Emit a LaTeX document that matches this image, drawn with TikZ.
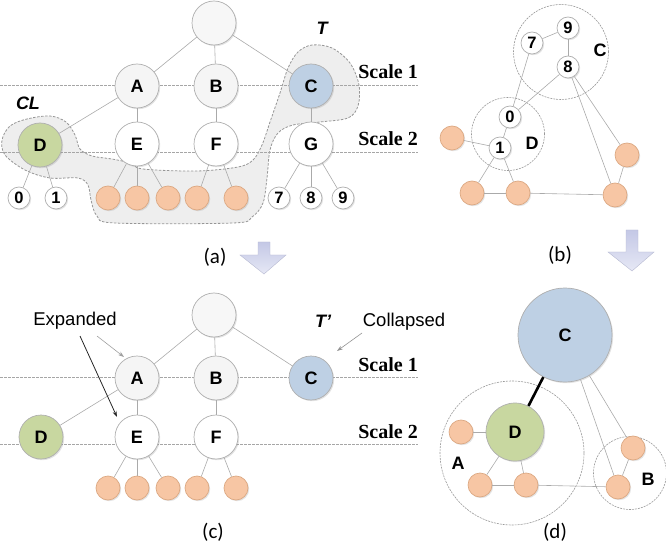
\documentclass[tikz,border=0pt]{standalone}
\usepackage{fontspec}
\setmainfont{Liberation Serif}
\setsansfont{Liberation Sans}
\newfontfamily\calib{Carlito}
\usetikzlibrary{shadows,arrows.meta}
\definecolor{nodeborder}{RGB}{175,175,175}
\definecolor{edgegray}{RGB}{170,170,170}
\definecolor{bluefill}{RGB}{190,208,228}
\definecolor{greenfill}{RGB}{200,215,160}
\definecolor{orangefill}{RGB}{247,198,164}
\definecolor{orangeborder}{RGB}{220,168,130}
\definecolor{regionfill}{RGB}{238,238,238}
\definecolor{regionline}{RGB}{150,150,150}
\definecolor{arrowtop}{RGB}{196,200,230}
\definecolor{arrowbot}{RGB}{230,232,245}
\begin{document}
\begin{tikzpicture}[x=1pt,y=-1pt,
  base/.style={circle, inner sep=0pt, draw=nodeborder, line width=0.7pt,
    drop shadow={shadow xshift=1.2pt, shadow yshift=-1.2pt, opacity=0.22}},
  big/.style={base, minimum size=44pt, fill=white, font=\sffamily\bfseries\fontsize{18}{18}\selectfont},
  small/.style={base, minimum size=22pt, fill=white, font=\sffamily\bfseries\fontsize{16.5}{16.5}\selectfont},
  orange/.style={base, minimum size=24pt, fill=orangefill, draw=orangeborder},
  edge/.style={draw=edgegray, line width=0.6pt},
  scaleline/.style={draw=gray!70, dashed, line width=0.6pt, dash pattern=on 2.5pt off 1.5pt},
  scalelab/.style={font=\bfseries\fontsize{20}{20}\selectfont, inner sep=0pt, anchor=base east},
  tlab/.style={font=\sffamily\bfseries\itshape\fontsize{18}{18}\selectfont, inner sep=0pt},
  plab/.style={font=\calib\fontsize{21}{21}\selectfont, inner sep=0pt},
  txt/.style={font=\sffamily\fontsize{18.5}{18.5}\selectfont, inner sep=0pt},
  dcirc/.style={circle, draw=gray!80, dashed, dash pattern=on 2pt off 1pt, line width=0.6pt, inner sep=0pt},
  clab/.style={font=\sffamily\bfseries\fontsize{18}{18}\selectfont, inner sep=0pt},
  blockarrow/.style={top color=arrowtop, bottom color=arrowbot, draw=arrowtop!80!gray, line width=0.4pt}
]
\useasboundingbox (0,0) rectangle (666,545);

% ---------- panel (a) ----------
\draw[fill=regionfill, draw=regionline, dashed, dash pattern=on 2.5pt off 1.5pt, line width=0.8pt]
  plot[smooth cycle, tension=0.55] coordinates {
  (130,163) (143,169) (197,171) (238,167) (253,160) (262,145) (270,122) (280,93)
  (288,68) (298,52) (312,45) (332,48) (350,63) (359,85) (358,106) (348,118)
  (320,122) (293,125) (278,133) (270,150) (267,178) (263,203) (252,217) (233,223)
  (115,223) (97,216) (91,200) (88,185) (78,178) (50,178) (25,170) (5,155)
  (2,140) (10,126) (27,119) (50,116) (66,122) (75,135) (80,149) (92,156) (112,159)};

\coordinate (s1a) at (0,85); \coordinate (s1b) at (418,85);
\coordinate (s2a) at (0,152); \coordinate (s2b) at (418,152);
\draw[scaleline] (s1a) -- (s1b);
\draw[scaleline] (s2a) -- (s2b);
\node[scalelab] (sc1) at (418,79) {Scale 1};
\node[scalelab] (sc2) at (418,146) {Scale 2};
\node[tlab] (Tl) at (322,28) {T};
\node[tlab] (CLl) at (28,103) {CL};

\node[big, fill=gray!6] (r1) at (214,23) {};
\node[big, fill=gray!8] (A1) at (137,86) {A};
\node[big, fill=gray!8] (B1) at (216,86) {B};
\node[big, fill=bluefill] (C1) at (311,86) {C};
\node[big, fill=greenfill] (D1) at (40,145) {D};
\node[big] (E1) at (137,144) {E};
\node[big] (F1) at (216,144) {F};
\node[big] (G1) at (311,144) {G};
\node[small] (n0) at (19,198) {0};
\node[small] (n1) at (56,198) {1};
\node[orange] (oa1) at (108,198) {};
\node[orange] (oa2) at (137,198) {};
\node[orange] (oa3) at (168,198) {};
\node[orange] (oa4) at (197,198) {};
\node[orange] (oa5) at (236,198) {};
\node[small] (n7) at (279,198) {7};
\node[small] (n8) at (311,198) {8};
\node[small] (n9) at (343,198) {9};
\draw[edge] (r1) -- (A1); \draw[edge] (r1) -- (B1); \draw[edge] (r1) -- (C1);
\draw[edge] (A1) -- (D1); \draw[edge] (A1) -- (E1); \draw[edge] (B1) -- (F1);
\draw[edge] (C1) -- (G1);
\draw[edge] (D1) -- (n0); \draw[edge] (D1) -- (n1);
\draw[edge] (E1) -- (oa1); \draw[edge] (E1) -- (oa2); \draw[edge] (E1) -- (oa3);
\draw[edge] (F1) -- (oa4); \draw[edge] (F1) -- (oa5);
\draw[edge] (G1) -- (n7); \draw[edge] (G1) -- (n8); \draw[edge] (G1) -- (n9);

\node[plab] (la) at (215,257) {(a)};
\path[blockarrow] (258,242) -- (270,242) -- (270,255) -- (286,255) -- (264,274) -- (240,255) -- (258,255) -- cycle;

% ---------- panel (b) ----------
\node[dcirc, minimum size=95pt] (gC) at (561,52) {};
\node[dcirc, minimum size=73pt] (gD) at (508,134) {};
\node[clab] (lC) at (600,50) {C};
\node[clab] (lD) at (532,143) {D};
\node[small] (b9) at (568,28) {9};
\node[small] (b7) at (532,43) {7};
\node[small] (b8) at (568,67) {8};
\node[small] (b0) at (510,117) {0};
\node[small] (b1) at (500,148) {1};
\node[orange] (ob1) at (452,138) {};
\node[orange] (ob2) at (472,193) {};
\node[orange] (ob3) at (518,193) {};
\node[orange] (ob4) at (615,195) {};
\node[orange] (ob5) at (627,155) {};
\draw[edge] (b7) -- (b9); \draw[edge] (b9) -- (b8);
\draw[edge] (b7) -- (b0); \draw[edge] (b8) -- (b0); \draw[edge] (b0) -- (b1);
\draw[edge] (b1) -- (ob1); \draw[edge] (b1) -- (ob2); \draw[edge] (b1) -- (ob3);
\draw[edge] (ob2) -- (ob3); \draw[edge] (ob3) -- (ob4);
\draw[edge] (b8) -- (ob4); \draw[edge] (b8) -- (ob5); \draw[edge] (ob4) -- (ob5);

\node[plab] (lb) at (560,255) {(b)};
\path[blockarrow] (626,230) -- (638,230) -- (638,252) -- (654,252) -- (632,271) -- (608,252) -- (626,252) -- cycle;

% ---------- panel (c) ----------
\coordinate (s3a) at (0,377); \coordinate (s3b) at (418,377);
\coordinate (s4a) at (0,444); \coordinate (s4b) at (418,444);
\draw[scaleline] (s3a) -- (s3b);
\draw[scaleline] (s4a) -- (s4b);
\node[scalelab] (sc3) at (418,371) {Scale 1};
\node[scalelab] (sc4) at (418,438) {Scale 2};
\node[tlab] (Tp) at (323,321) {T'};
\node[txt] (exp) at (75,321) {Expanded};
\node[txt] (col) at (404,322) {Collapsed};

\node[big, fill=gray!6] (r2) at (214,315) {};
\node[big, fill=gray!8] (A2) at (137,378) {A};
\node[big, fill=gray!8] (B2) at (216,378) {B};
\node[big, fill=bluefill] (C2) at (311,378) {C};
\node[big, fill=greenfill] (D2) at (41,437) {D};
\node[big] (E2) at (137,437) {E};
\node[big] (F2) at (216,437) {F};
\node[orange] (oc1) at (108,488) {};
\node[orange] (oc2) at (137,488) {};
\node[orange] (oc3) at (168,488) {};
\node[orange] (oc4) at (197,488) {};
\node[orange] (oc5) at (236,488) {};
\draw[edge] (r2) -- (A2); \draw[edge] (r2) -- (B2); \draw[edge] (r2) -- (C2);
\draw[edge] (A2) -- (D2); \draw[edge] (A2) -- (E2); \draw[edge] (B2) -- (F2);
\draw[edge] (E2) -- (oc1); \draw[edge] (E2) -- (oc2); \draw[edge] (E2) -- (oc3);
\draw[edge] (F2) -- (oc4); \draw[edge] (F2) -- (oc5);

\coordinate (ea1) at (97,336); \coordinate (ea1t) at (124,357);
\coordinate (ea2) at (80,336); \coordinate (ea2t) at (117,417);
\coordinate (ca1) at (362,333); \coordinate (ca1t) at (337,351);
\draw[draw=gray!75, line width=0.6pt, -{Stealth[length=6pt,width=4pt]}] (ea1) -- (ea1t);
\draw[draw=black!85, line width=0.8pt, -{Stealth[length=6pt,width=4pt]}] (ea2) -- (ea2t);
\draw[draw=gray!85, line width=0.6pt, -{Stealth[length=6pt,width=4pt]}] (ca1) -- (ca1t);

\node[plab] (lc) at (213,532) {(c)};

% ---------- panel (d) ----------
\node[dcirc, minimum size=144pt] (gA) at (512,453) {};
\node[dcirc, minimum size=73pt] (gB) at (630,473) {};
\node[big, minimum size=94pt, fill=bluefill] (Cd) at (565,335) {C};
\node[big, minimum size=58pt, fill=greenfill] (Dd) at (515,432) {D};
\node[clab] (lA) at (458,463) {A};
\node[clab] (lB) at (648,479) {B};
\node[orange] (od1) at (461,432) {};
\node[orange] (od2) at (480,485) {};
\node[orange] (od3) at (526,485) {};
\node[orange] (od4) at (633,448) {};
\node[orange] (od5) at (618,487) {};
\draw[line width=2.6pt, black] (Cd) -- (Dd);
\draw[edge] (od1) -- (Dd); \draw[edge] (Dd) -- (od2); \draw[edge] (Dd) -- (od3);
\draw[edge] (od2) -- (od3); \draw[edge] (od3) -- (od5); \draw[edge] (od5) -- (od4);
\draw[edge] (Cd) -- (od4); \draw[edge] (Cd) -- (od5);

\node[plab] (ld) at (555,532) {(d)};
\end{tikzpicture}
\end{document}
